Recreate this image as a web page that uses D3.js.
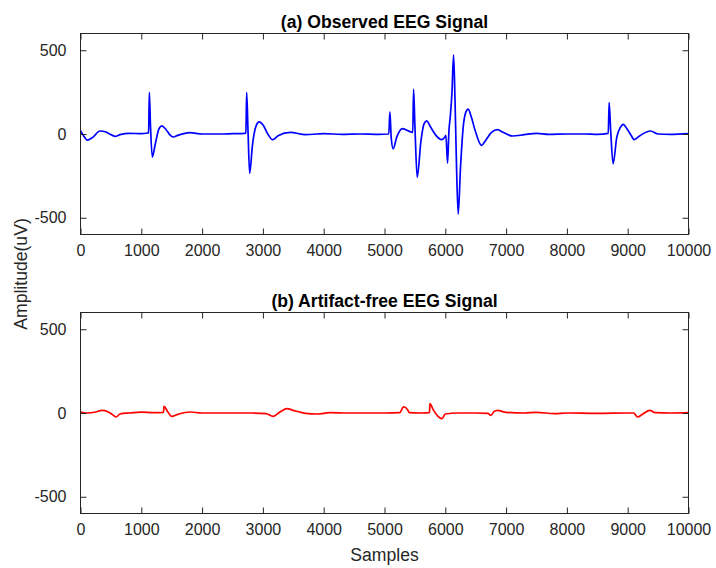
<!DOCTYPE html>
<html>
<head>
<meta charset="utf-8">
<script src="https://cdn.jsdelivr.net/npm/d3@7"></script>
<style>
  body { margin: 0; background: #fff; }
  text { font-family: "Liberation Sans", Arial, sans-serif; fill: #262626; }
</style>
</head>
<body>
<svg id="chart" width="716" height="568"></svg>
<script>
// observed signal, knots (sample, uV)
var obsSamples = [0, 50, 112, 200, 320, 420, 480, 567, 650, 800, 1000, 1100, 1120, 1132, 1150, 1181, 1230, 1290, 1335, 1400, 1470, 1526, 1600, 1800, 2000, 2300, 2500, 2700, 2720, 2733, 2755, 2782, 2830, 2890, 2940, 3000, 3080, 3160, 3250, 3450, 3700, 3900, 4000, 4300, 4600, 4900, 5070, 5089, 5110, 5143, 5200, 5297, 5420, 5465, 5478, 5500, 5538, 5600, 5650, 5692, 5760, 5850, 5939, 5990, 6010, 6037, 6060, 6081, 6110, 6136, 6160, 6185, 6212, 6250, 6300, 6350, 6377, 6420, 6500, 6597, 6660, 6760, 6860, 6950, 7106, 7300, 7500, 7700, 8000, 8300, 8500, 8680, 8695, 8720, 8760, 8820, 8880, 8925, 8990, 9060, 9106, 9200, 9375, 9500, 9700, 10000];
var obsValues  = [20, -10, -36, -20, 18, 12, 0, -14, -4, 4, 2, 6, 8, 248, 60, -138, -60, 30, 48, 30, -5, -18, -8, 8, 0, 0, 2, 4, 6, 248, 20, -234, -60, 50, 72, 55, 0, -34, -10, 10, -4, 0, 2, -2, 0, -2, 0, 132, -20, -88, -20, 32, 14, 10, 266, 50, -258, -40, 60, 78, 40, -10, -34, -20, -8, -174, 20, 100, 250, 472, 200, -200, -478, -200, 60, 140, 148, 110, 10, -68, -40, 10, 26, 10, -12, -4, 4, -2, 0, 0, -2, 4, 188, 20, -178, -20, 40, 58, 30, -10, -34, -10, 18, 0, -2, 2];

// artifact-free signal
var cleanSamples = [0, 100, 250, 348, 450, 520, 584, 650, 800, 1000, 1200, 1365, 1373, 1430, 1500, 1600, 1800, 2000, 2500, 2800, 3050, 3170, 3280, 3400, 3500, 3700, 3900, 4100, 4400, 4700, 5000, 5250, 5313, 5380, 5406, 5600, 5740, 5747, 5800, 5880, 5944, 6000, 6200, 6500, 6700, 6750, 6800, 6860, 7000, 7300, 7500, 7800, 8000, 8500, 9000, 9100, 9161, 9250, 9364, 9450, 9700, 10000];
var cleanValues  = [6, 0, 6, 16, 8, -8, -24, -6, 0, 5, 2, 4, 40, 10, -20, -8, 6, 0, 0, 0, -4, -20, 6, 26, 16, -2, -6, 2, 0, 0, 0, 2, 36, 20, 2, 0, 2, 56, 20, -20, -34, -6, 0, 0, -2, -14, 8, 16, 4, 0, 4, -4, 0, -2, 0, 0, -24, -6, 16, 2, 0, 2];

var xTicks = [0, 1000, 2000, 3000, 4000, 5000, 6000, 7000, 8000, 9000, 10000];
var yTicks = [-500, 0, 500];

var svg = d3.select("#chart");
var left = 80.5, right = 688.5;
var tickLen = 6;
var plain = function(d){ return String(d); };   // keep the ascii hyphen like matlab

var x = d3.scaleLinear().domain([0, 10000]).range([left, right]);

function drawPanel(top, bottom, title, samples, values, color){
    var y = d3.scaleLinear().domain([-600, 600]).range([bottom, top]);
    var g = svg.append("g");

    var pts = samples.map(function(s, i){ return [s, values[i]]; });
    var line = d3.line()
        .x(function(d){ return x(d[0]); })
        .y(function(d){ return y(d[1]); })
        .curve(d3.curveMonotoneX);

    g.append("path")
        .attr("d", line(pts))
        .attr("fill", "none")
        .attr("stroke", color)
        .attr("stroke-width", 1.7)
        .attr("stroke-linejoin", "round");

    // axes, ticks pointing in, box on
    g.append("g")
        .attr("transform", `translate(0,${bottom})`)
        .call(d3.axisBottom(x).tickValues(xTicks).tickSizeInner(-tickLen).tickSizeOuter(0).tickPadding(10).tickFormat(plain))
        .call(styleAxis);
    g.append("g")
        .attr("transform", `translate(0,${top})`)
        .call(d3.axisTop(x).tickValues(xTicks).tickSizeInner(-tickLen).tickSizeOuter(0).tickFormat(""))
        .call(styleAxis);
    g.append("g")
        .attr("transform", `translate(${left},0)`)
        .call(d3.axisLeft(y).tickValues(yTicks).tickSizeInner(-tickLen).tickSizeOuter(0).tickPadding(14).tickFormat(plain))
        .call(styleAxis);
    g.append("g")
        .attr("transform", `translate(${right},0)`)
        .call(d3.axisRight(y).tickValues(yTicks).tickSizeInner(-tickLen).tickSizeOuter(0).tickFormat(""))
        .call(styleAxis);

    g.append("rect")
        .attr("x", left).attr("y", top)
        .attr("width", right - left).attr("height", bottom - top)
        .attr("fill", "none")
        .attr("stroke", "#262626")
        .attr("stroke-width", 1);

    g.append("text")
        .attr("x", (left + right) / 2)
        .attr("y", top - 6)
        .attr("text-anchor", "middle")
        .style("font-size", "17.6px")
        .style("font-weight", "bold")
        .style("fill", "#000")
        .text(title);
}

function styleAxis(sel){
    sel.select(".domain").remove();
    sel.selectAll(".tick line").attr("stroke", "#262626");
    sel.selectAll(".tick text")
        .style("font-size", "16px")
        .style("font-family", "Liberation Sans, Arial, sans-serif")
        .attr("fill", "#262626");
}

drawPanel(33.5, 234.5, "(a) Observed EEG Signal", obsSamples, obsValues, "#0000ff");
drawPanel(312.5, 513.5, "(b) Artifact-free EEG Signal", cleanSamples, cleanValues, "#ff0000");

svg.append("text")
    .attr("transform", "translate(27,274) rotate(-90)")
    .attr("text-anchor", "middle")
    .style("font-size", "17.6px")
    .text("Amplitude(uV)");

svg.append("text")
    .attr("x", (left + right) / 2)
    .attr("y", 561)
    .attr("text-anchor", "middle")
    .style("font-size", "17.6px")
    .text("Samples");
</script>
</body>
</html>
